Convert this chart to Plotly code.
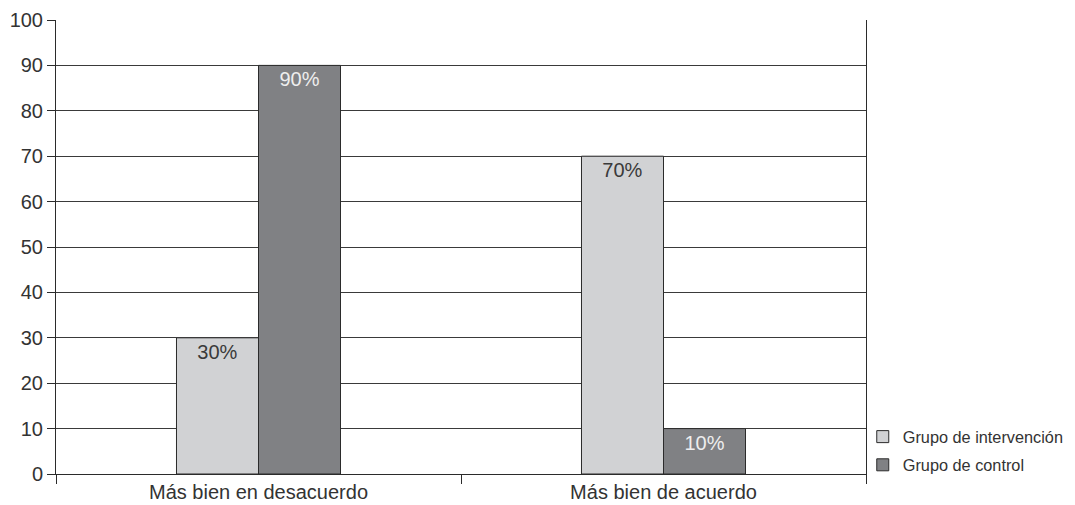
import plotly.graph_objects as go

categories = ["Más bien en desacuerdo", "Más bien de acuerdo"]
intervencion = [30, 70]
control = [90, 10]
intervencion_labels = ["30%", "70%"]
control_labels = ["90%", "10%"]
y_ticks = [0, 10, 20, 30, 40, 50, 60, 70, 80, 90, 100]

FONT = "Liberation Sans, Arial, sans-serif"

fig = go.Figure()
fig.add_trace(go.Bar(
    name="Grupo de intervención", x=categories, y=intervencion,
    text=intervencion_labels, textposition="inside", insidetextanchor="end",
    marker=dict(color="#d1d2d4", line=dict(color="#2b2b2b", width=1)),
    textfont=dict(family=FONT, size=20, color="#3a3a3a"),
    legendgroup="a",
))
fig.add_trace(go.Bar(
    name="Grupo de control", x=categories, y=control,
    text=control_labels, textposition="inside", insidetextanchor="end",
    marker=dict(color="#808184", line=dict(color="#2b2b2b", width=1)),
    textfont=dict(family=FONT, size=20, color="#eeeeee"),
    legendgroup="b",
))

fig.update_layout(
    width=1067, height=497,
    margin=dict(l=48, r=209, t=12, b=31, autoexpand=False),
    paper_bgcolor="white", plot_bgcolor="white",
    barmode="group", bargap=0.595, bargroupgap=0,
    font=dict(family=FONT, size=20, color="#333333"),
    legend=dict(
        x=0.996, y=0.12, xanchor="left", yanchor="top",
        font=dict(family=FONT, size=16.3, color="#333333"),
        bgcolor="rgba(0,0,0,0)", tracegroupgap=4, traceorder="grouped",
    ),
    uniformtext=dict(minsize=20, mode="show"),
)
fig.update_xaxes(
    showline=True, linecolor="#2b2b2b", linewidth=1,
    ticks="outside", ticklen=9, tickcolor="#2b2b2b", tickson="boundaries",
    tickfont=dict(family=FONT, size=20, color="#333333"),
    showgrid=False, mirror=False, automargin=False,
)
fig.update_yaxes(
    range=[0, 100], tickvals=y_ticks,
    showline=True, linecolor="#2b2b2b", linewidth=1, mirror=True,
    ticks="outside", ticklen=8, tickcolor="#2b2b2b",
    showgrid=True, gridcolor="#3a3a3a", gridwidth=1,
    zeroline=False, automargin=False,
    tickfont=dict(family=FONT, size=20, color="#333333"),
)

fig.write_html("out.html")
